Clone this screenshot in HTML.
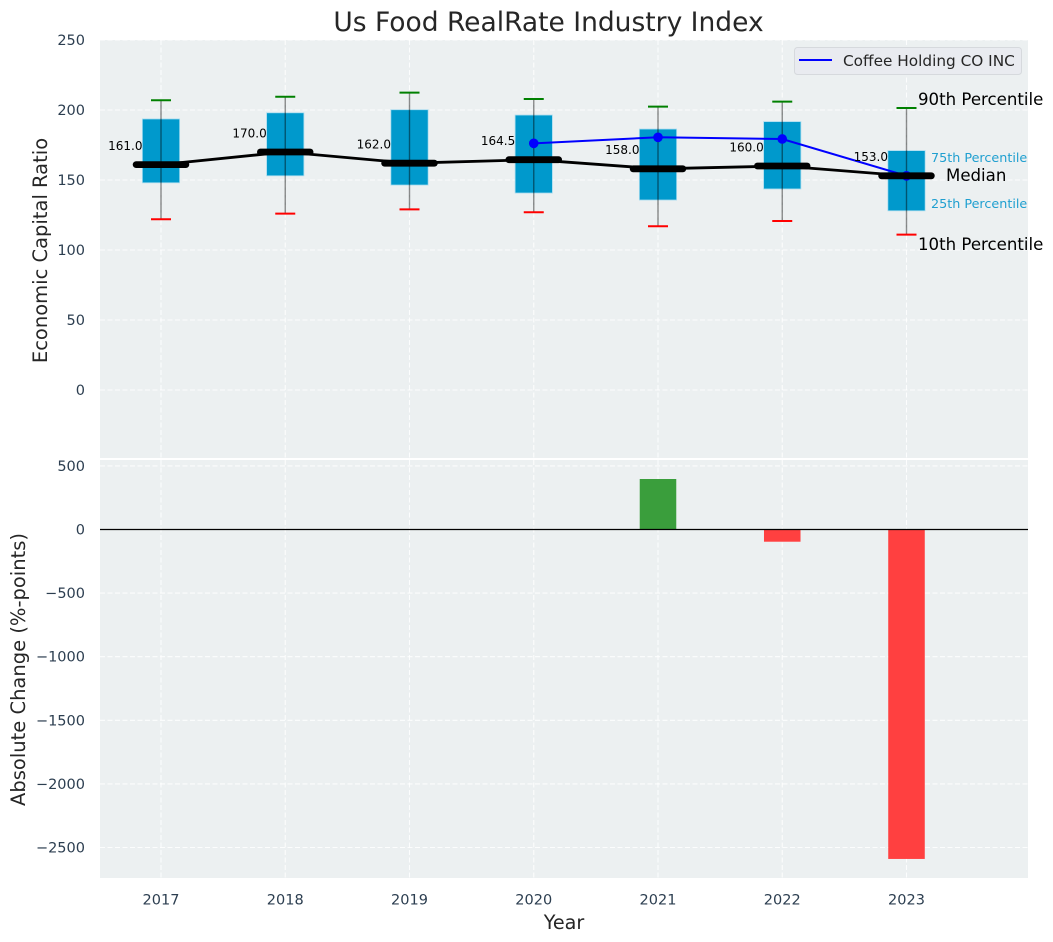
<!DOCTYPE html>
<html lang="en">
<head>
<meta charset="utf-8">
<title>Us Food RealRate Industry Index</title>
<style>
html,body{margin:0;padding:0;background:#fff;}
body{width:1053px;height:942px;overflow:hidden;}
svg{display:block;font-family:"DejaVu Sans","Liberation Sans",sans-serif;}
</style>
</head>
<body>
<svg id="chart" width="1053" height="942" viewBox="0 0 1053 942" xmlns="http://www.w3.org/2000/svg">
  <rect width="1053" height="942" fill="#ffffff"/>
  <rect x="100" y="40" width="928" height="418" fill="#ecf0f1"/>
  <rect x="100" y="460" width="928" height="418" fill="#ecf0f1"/>
  <g id="layer"></g>
  <text x="548.5" y="31" font-size="26.5" text-anchor="middle" fill="#262626">Us Food RealRate Industry Index</text>
  <text transform="translate(47,250.5) rotate(-90)" font-size="19.5" text-anchor="middle" fill="#262626">Economic Capital Ratio</text>
  <text transform="translate(25,669.5) rotate(-90)" font-size="19.5" text-anchor="middle" fill="#262626">Absolute Change (%-points)</text>
  <text x="564" y="929" font-size="19.2" text-anchor="middle" fill="#262626">Year</text>
  <g>
    <rect x="794.5" y="47.5" width="227" height="27" rx="3" fill="#e9ebf0" stroke="#d6d9dd" stroke-width="1"/>
    <line x1="799" y1="60" x2="832" y2="60" stroke="#0000ff" stroke-width="2"/>
    <text x="843" y="66" font-size="15.3" fill="#262626">Coffee Holding CO INC</text>
  </g>
  <g>
    <text x="918" y="105" font-size="16.6" fill="#000000">90th Percentile</text>
    <text x="931" y="162" font-size="12.75" fill="#1f9fd0">75th Percentile</text>
    <text x="946" y="181" font-size="16.6" fill="#000000">Median</text>
    <text x="931" y="208" font-size="12.75" fill="#1f9fd0">25th Percentile</text>
    <text x="918" y="250" font-size="16.6" fill="#000000">10th Percentile</text>
  </g>
</svg>
<script>
const years = [2017, 2018, 2019, 2020, 2021, 2022, 2023];
const p90 = [207, 209.5, 212.4, 207.9, 202.4, 206, 201.4];
const q3 = [193.6, 198, 200.2, 196.4, 186.4, 191.7, 171];
const medians = [161, 170, 162, 164.5, 158, 160, 153];
const q1 = [148, 153, 146.4, 140.7, 135.7, 143.6, 128];
const p10 = [122, 126, 129, 127, 117, 120.7, 111];
const companyYears = [2020, 2021, 2022, 2023];
const companyValues = [176.2, 180.5, 179.3, 153];
const changes = [null, null, null, null, 397, -96, -2590];
const topTicks = [0, 50, 100, 150, 200, 250];
const bottomTicks = [500, 0, -500, -1000, -1500, -2000, -2500];

const xScale = function (year) { return 161 + (year - 2017) * 124.25; };
const xSpan = function (years_) { return years_ * 124.25; };
const yTop = function (v) { return 390 - v * 1.4; };
const yBottom = function (v) { return 529.5 - v * 0.1272; };

const layer = document.getElementById('layer');
const NS = 'http://www.w3.org/2000/svg';
function mk(tag, attrs, text) {
  const el = document.createElementNS(NS, tag);
  for (const k in attrs) el.setAttribute(k, attrs[k]);
  if (text !== undefined) el.textContent = text;
  layer.appendChild(el);
  return el;
}
const gridStyle = { stroke: '#ffffff', 'stroke-width': 1.1, 'stroke-dasharray': '5,2.5', 'stroke-opacity': 0.85 };
const tickColor = '#2c3e50';

topTicks.forEach(function (t) {
  const gl = mk('line', Object.assign({ x1: 100, x2: 1028, y1: yTop(t), y2: yTop(t) }, gridStyle));
  
  
  const lb = mk('text', { x: 85, y: yTop(t) + 5, 'font-size': 14.5, 'text-anchor': 'end', fill: tickColor }, String(t));
  
  
});
bottomTicks.forEach(function (t) {
  const gl = mk('line', Object.assign({ x1: 100, x2: 1028, y1: yBottom(t), y2: yBottom(t) }, gridStyle));
  
  
  const lb = mk('text', { x: 85, y: yBottom(t) + 5, 'font-size': 14.5, 'text-anchor': 'end', fill: tickColor }, String(t).replace('-', '\u2212'));
  
  
});
years.forEach(function (yr) {
  const x = xScale(yr);
  const g1 = mk('line', Object.assign({ x1: x, x2: x, y1: 40, y2: 458 }, gridStyle));
  
  
  const g2 = mk('line', Object.assign({ x1: x, x2: x, y1: 460, y2: 878 }, gridStyle));
  
  
  const lb = mk('text', { x: x, y: 904.5, 'font-size': 14.5, 'text-anchor': 'middle', fill: tickColor }, String(yr));
  
  
});

years.forEach(function (yr, i) {
  const x = xScale(yr);
  const half = xSpan(0.15);
  const box = mk('rect', { x: x - half, y: yTop(q3[i]), width: half * 2, height: yTop(q1[i]) - yTop(q3[i]), fill: '#0099cc', stroke: '#a8dcef', 'stroke-width': 0.8 });
  
  
  const wh = mk('line', { x1: x, x2: x, y1: yTop(p90[i]), y2: yTop(p10[i]), stroke: '#000000', 'stroke-opacity': 0.45, 'stroke-width': 1.4 });
  
  
  const capHi = mk('line', { x1: x - 10, x2: x + 10, y1: yTop(p90[i]), y2: yTop(p90[i]), stroke: '#008000', 'stroke-width': 2 });
  
  
  const capLo = mk('line', { x1: x - 10, x2: x + 10, y1: yTop(p10[i]), y2: yTop(p10[i]), stroke: '#ff0000', 'stroke-width': 2 });
  
  
});

const companyLine = mk('polyline', {
  points: companyYears.map(function (yr, i) { return xScale(yr) + ',' + yTop(companyValues[i]); }).join(' '),
  fill: 'none', stroke: '#0000ff', 'stroke-width': 2
});


companyYears.forEach(function (yr, i) {
  const pt = mk('circle', { cx: xScale(yr), cy: yTop(companyValues[i]), r: 4.8, fill: '#0000ff' });
  
  
});

const medianLine = mk('polyline', {
  points: years.map(function (yr, i) { return xScale(yr) + ',' + yTop(medians[i]); }).join(' '),
  fill: 'none', stroke: '#000000', 'stroke-width': 2.8
});



years.forEach(function (yr, i) {
  const x = xScale(yr);
  const y = yTop(medians[i]);
  const md = mk('line', { x1: x - xSpan(0.2), x2: x + xSpan(0.2), y1: y, y2: y, stroke: '#000000', 'stroke-width': 6.8, 'stroke-linecap': 'round' });
  
  
  const lb = mk('text', { x: x - 18.5, y: y - 14.7, 'font-size': 12, 'text-anchor': 'end', fill: '#000000' }, medians[i].toFixed(1));
  
  
});

years.forEach(function (yr, i) {
  if (changes[i] === null) return;
  const x = xScale(yr);
  const half = xSpan(0.147);
  const y0 = yBottom(0);
  const y1 = yBottom(changes[i]);
  const bar = mk('rect', {
    x: x - half, y: Math.min(y0, y1), width: half * 2, height: Math.abs(y1 - y0),
    fill: changes[i] >= 0 ? '#3a9e3c' : '#ff4040'
  });
  
  
});
const zero = mk('line', { x1: 100, x2: 1028, y1: yBottom(0), y2: yBottom(0), stroke: '#000000', 'stroke-width': 1.2 });


</script>
</body>
</html>
